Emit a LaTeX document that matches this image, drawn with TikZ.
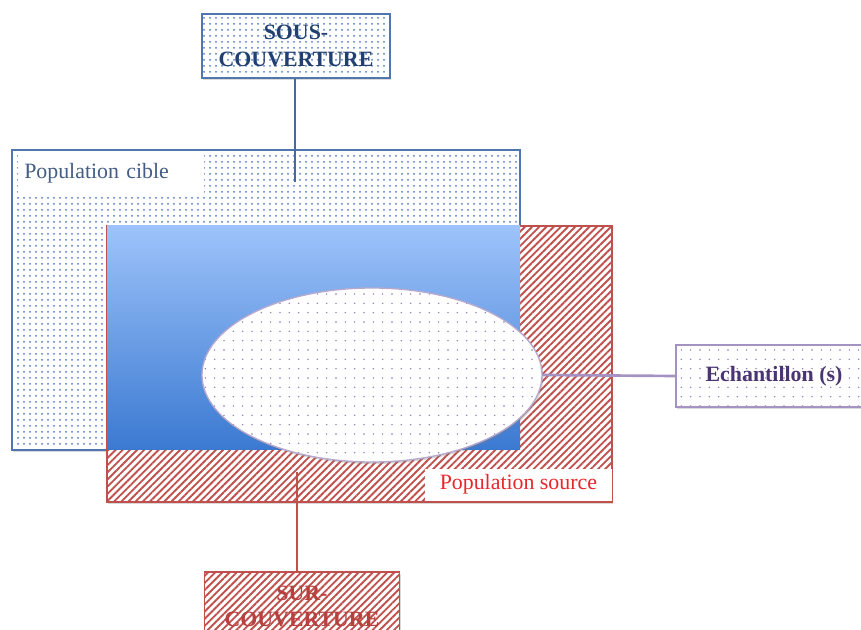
\documentclass[tikz,border=0pt]{standalone}
\usepackage{fontspec}
\setmainfont{Liberation Serif}
\usepackage{xcolor}
\usepackage{tikz}
\usetikzlibrary{patterns.meta,shapes.geometric,shadows}

\definecolor{cibleblue}{HTML}{4F76AE}
\definecolor{dotblue}{HTML}{4F7CC6}
\definecolor{darkblue}{HTML}{22406F}
\definecolor{srcred}{HTML}{C0504D}
\definecolor{txtred}{HTML}{E8262C}
\definecolor{surred}{HTML}{B5423F}
\definecolor{echpurple}{HTML}{A493C2}
\definecolor{echdot}{HTML}{8B76AE}
\definecolor{echtext}{HTML}{4A3472}
\definecolor{gradtop}{HTML}{9DC3FA}
\definecolor{gradbot}{HTML}{3B79D1}

\begin{document}
\begin{tikzpicture}[x=0.75pt, y=-0.75pt,
  every node/.style={font=\fontsize{16.4}{19.6}\selectfont},
  shd/.style={drop shadow={opacity=0.3, shadow xshift=1pt, shadow yshift=-1.5pt}},
  bluedots/.style={pattern={Dots[radius=0.75pt, distance=4.5pt]}, pattern color=dotblue},
  purpdots/.style={pattern={Dots[radius=0.6pt, distance=7pt]}, pattern color=echdot},
  redlines/.style={pattern={Lines[angle=45, distance=3.8pt, line width=1.4pt]}, pattern color=srcred},
  lbl/.style={align=center, inner sep=0pt, font=\fontsize{16.4}{19.6}\selectfont\bfseries},
  conn/.style={line width=2pt}]
\clip (0,0) rectangle (861,630);
\useasboundingbox (0,0) rectangle (861,630);
% ---- population cible (dotted) ----
\draw[shd, preaction={fill=white}, bluedots, draw=cibleblue, line width=1.2pt]
  (12,150) rectangle (520,450);
% ---- population source (hatched) ----
\draw[shd, preaction={fill=white}, redlines, draw=srcred, line width=1.2pt]
  (107,226) rectangle (612,502);
% overlap of the two populations
\shade[top color=gradtop, bottom color=gradbot] (107,226) rectangle (520,450);
% ---- labels of the two frames ----
\node[fill=white, anchor=north west, minimum width=140pt, minimum height=30pt,
  text width=130pt, align=left, text=darkblue!85, inner sep=0pt, xshift=10pt]
  (cible) at (4,153) {Population cible};
\node[fill=white, anchor=south east, minimum width=140pt, minimum height=24pt,
  text=txtred, inner sep=0pt] (source) at (612,501) {Population source};
% ---- sample ----
\node[ellipse, shd, preaction={fill=white}, purpdots, draw=echpurple!80,
  line width=1pt, minimum width=255pt, minimum height=130.5pt, inner sep=0pt]
  (sample) at (372,375) {};
% ---- call-out boxes ----
\node[lbl, shd, preaction={fill=white}, bluedots, draw=cibleblue, line width=1.2pt,
  minimum width=141pt, minimum height=48pt, text=darkblue] (sous) at (296,46)
  {SOUS-\\COUVERTURE};
\node[lbl, shd, preaction={fill=white}, redlines, draw=srcred, line width=1.2pt,
  minimum width=146pt, minimum height=51pt, text=surred] (sur) at (302,606)
  {SUR-\\COUVERTURE};
\node[lbl, shd, preaction={fill=white}, purpdots, draw=echpurple, line width=1.2pt,
  minimum width=147pt, minimum height=46.5pt, text=echtext] (echbox) at (774,376)
  {Echantillon (s)};
% ---- connectors ----
\coordinate (sousend) at (295,182);
\coordinate (surend) at (297,472);
\draw[conn, cibleblue!90!black] (sous.south -| sousend) -- (sousend);
\draw[conn, srcred] (surend) -- (surend |- sur.north);
\draw[conn, echpurple] (sample.east) -- (echbox.west);
\end{tikzpicture}
\end{document}
